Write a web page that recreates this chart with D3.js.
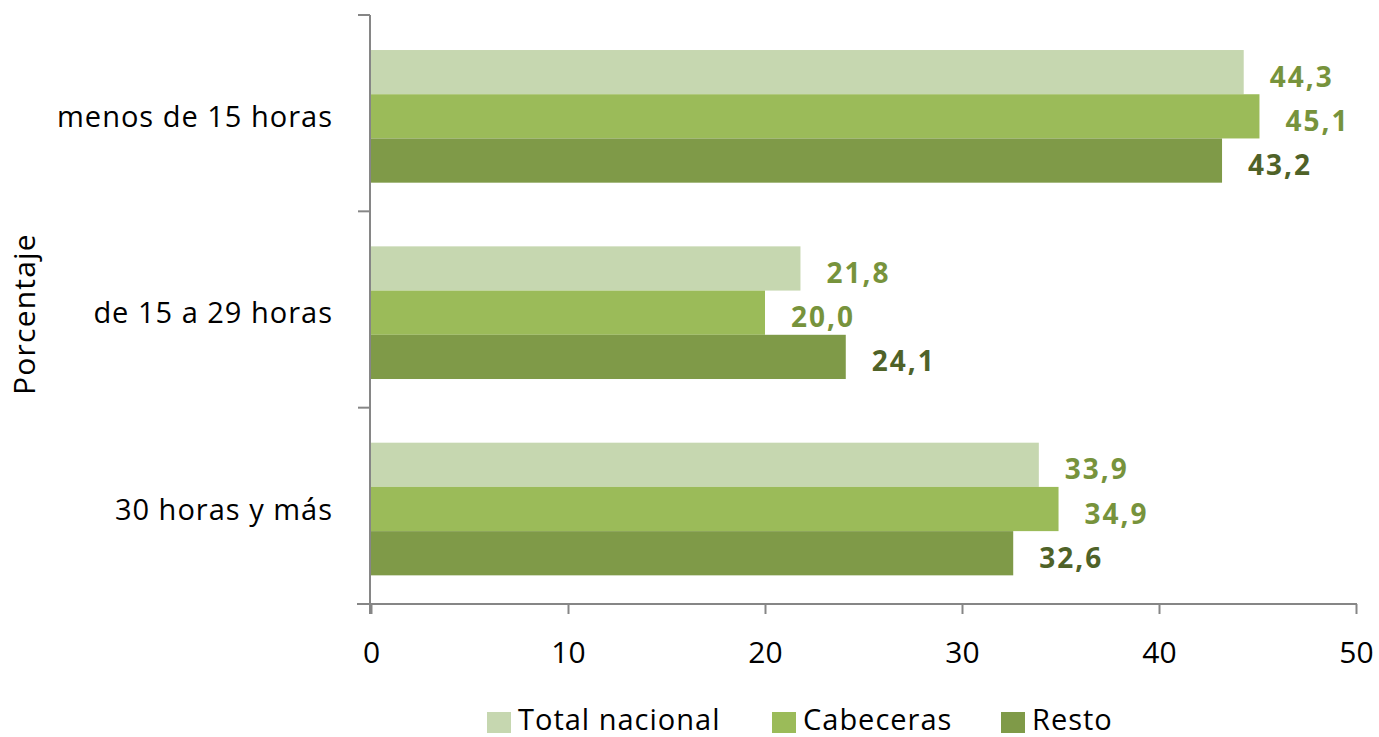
<!DOCTYPE html>
<html><head><meta charset="utf-8">
<script src="https://cdn.jsdelivr.net/npm/d3@7"></script>
<style>body{margin:0;background:#fff}svg{display:block}text{font-family:"Open Sans",sans-serif}</style>
</head><body><svg id="c" width="1379" height="737"></svg>
<script>
const categories = ["menos de 15 horas", "de 15 a  29 horas", "30 horas y más"];
const seriesNames = ["Total nacional", "Cabeceras", "Resto"];
const totalNacional = [44.3, 21.8, 33.9];
const cabeceras = [45.1, 20.0, 34.9];
const resto = [43.2, 24.1, 32.6];
const xTicks = [0, 10, 20, 30, 40, 50];
const colors = ["#c6d7b0", "#9bbb59", "#7f9a48"];
const labelColors = ["#77933c", "#77933c", "#4f6228"];

const values = [totalNacional, cabeceras, resto];
const svg = d3.select("#c");
const x = d3.scaleLinear().domain([0, 50]).range([371, 1356]);
const y = d3.scaleBand().domain(categories).range([15, 604]);
const y1 = d3.scaleBand().domain(seriesNames).range([0, y.bandwidth()]).paddingOuter(0.72).align(0.55);

const fmt = v => d3.format(".1f")(v).replace(".", ",");

// bars
seriesNames.forEach((s, si) => {
  const g = svg.append("g");
  g.selectAll("rect").data(categories).join("rect")
    .attr("x", x(0))
    .attr("y", c => y(c) + y1(s))
    .attr("width", (c, i) => x(values[si][i]) - x(0))
    .attr("height", y1.bandwidth())
    .attr("fill", colors[si]);
  g.selectAll("text").data(categories).join("text")
    .attr("x", (c, i) => x(values[si][i]) + 26)
    .attr("y", c => y(c) + y1(s) + y1.bandwidth() / 2 + 7)
    .attr("dominant-baseline", "middle")
    .attr("font-size", 28)
    .attr("font-weight", "bold")
    .attr("letter-spacing", 2)
    .attr("fill", labelColors[si])
    .text((c, i) => fmt(values[si][i]));
});

// x axis
const xAxis = svg.append("g").attr("transform", "translate(0,604)")
  .call(d3.axisBottom(x).tickValues(xTicks).tickSize(10).tickSizeOuter(0).tickFormat(d => d));
xAxis.select(".domain").attr("stroke", "#868686").attr("stroke-width", 2).attr("d", "M357,0H1357");
xAxis.selectAll(".tick line").attr("stroke", "#868686").attr("stroke-width", 2);
xAxis.selectAll(".tick text").attr("font-size", 30).attr("fill", "#000").attr("dy", "0.71em").attr("y", 38);

// y axis
const yAxis = svg.append("g").attr("transform", "translate(370,0)");
yAxis.append("line").attr("x1", 0).attr("x2", 0).attr("y1", 15).attr("y2", 614)
  .attr("stroke", "#868686").attr("stroke-width", 2);
const yTickPos = categories.map(c => y(c)).concat([y.range()[1]]);
yAxis.selectAll("line.t").data(yTickPos).join("line").attr("class", "t")
  .attr("x1", -12).attr("x2", 0).attr("y1", d => d).attr("y2", d => d)
  .attr("stroke", "#868686").attr("stroke-width", 2);
svg.append("g").selectAll("text").data(categories).join("text")
  .attr("x", 333).attr("y", c => y(c) + y.bandwidth() / 2 + 6)
  .attr("text-anchor", "end").attr("dominant-baseline", "middle")
  .attr("font-size", 29).attr("letter-spacing", 1).attr("fill", "#000").text(c => c);

// y title
svg.append("text").attr("transform", "translate(27,314) rotate(-90)")
  .attr("text-anchor", "middle").attr("dominant-baseline", "middle")
  .attr("font-size", 30).attr("letter-spacing", 1.2).attr("fill", "#000").text("Porcentaje");

// legend
const legendX = [487, 772, 1001];
const lg = svg.append("g");
seriesNames.forEach((s, i) => {
  lg.append("rect").attr("x", legendX[i]).attr("y", 712).attr("width", 24).attr("height", 21).attr("fill", colors[i]);
  lg.append("text").attr("x", legendX[i] + 31).attr("y", 730)
    .attr("font-size", 29).attr("letter-spacing", 1).attr("fill", "#000").text(s);
});
</script></body></html>
